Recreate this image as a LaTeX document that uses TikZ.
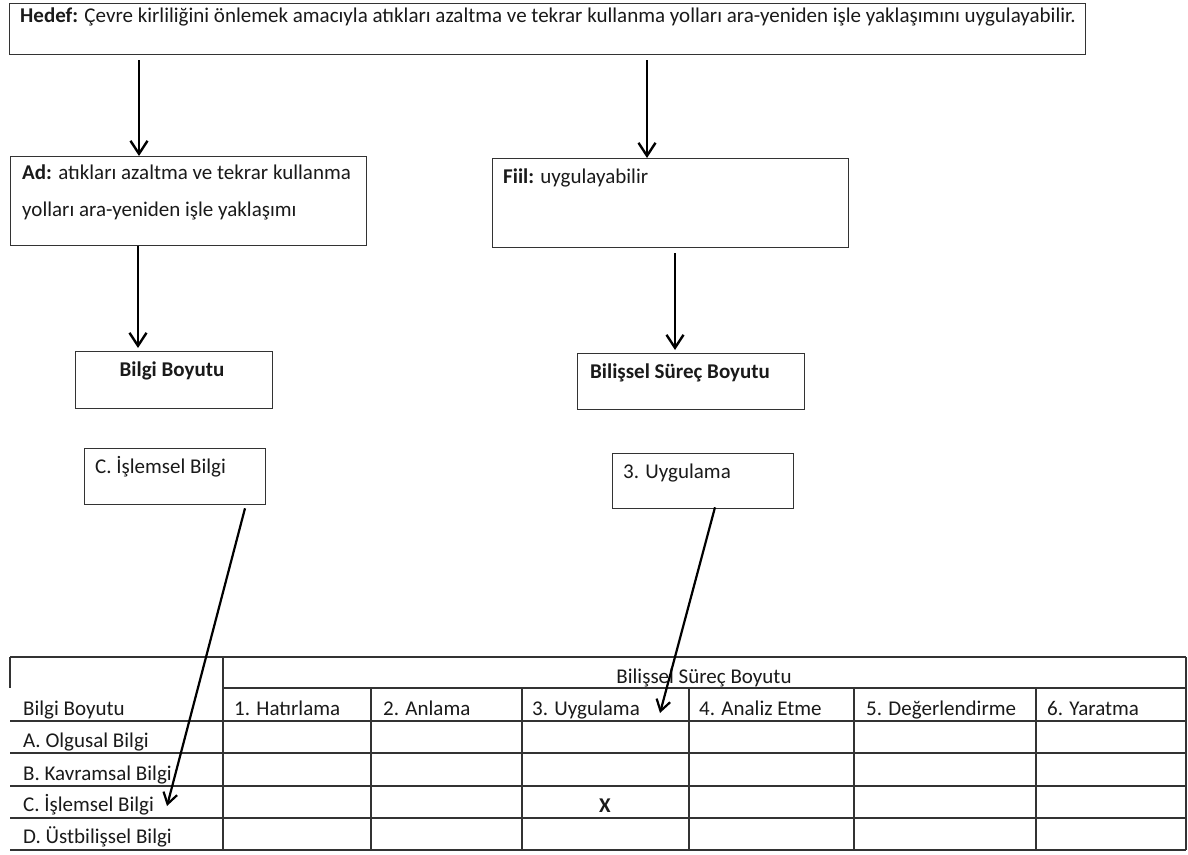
\documentclass[tikz,border=0pt]{standalone}
\usepackage{fontspec}
\setmainfont{Carlito}
\usetikzlibrary{arrows.meta}
\definecolor{ink}{HTML}{1A1A1A}
\definecolor{rule}{HTML}{333333}
\begin{document}
\begin{tikzpicture}[x=1pt,y=-1pt,
  box/.style={draw=rule, line width=1.3pt, inner sep=0pt, anchor=north west},
  txt/.style={anchor=base west, inner sep=0pt, text=ink, font=\fontsize{21}{25}\selectfont},
  ctxt/.style={anchor=base, inner sep=0pt, text=ink, font=\fontsize{21}{25}\selectfont},
  flow/.style={line width=2.6pt, -{Straight Barb[length=13pt,width=17pt,line width=2.4pt]}},
  pointer/.style={line width=2.2pt, -{Straight Barb[length=11pt,width=14pt,line width=2.2pt]}},
  rulel/.style={draw=rule, line width=1.2pt}]
\useasboundingbox[fill=white] (0,0) rectangle (1188,854);

% --- boxes ---
\node[box, minimum width=1076pt, minimum height=51pt] (top) at (9,3) {};
\node[box, minimum width=356pt, minimum height=89pt] (ad) at (10,156) {};
\node[box, minimum width=356pt, minimum height=89pt] (fiil) at (492,158) {};
\node[box, minimum width=197pt, minimum height=57pt] (bilgi) at (75,351) {};
\node[box, minimum width=227pt, minimum height=56pt] (bsb) at (577,353) {};
\node[box, minimum width=181pt, minimum height=56pt] (cis) at (84,448) {};
\node[box, minimum width=181pt, minimum height=55pt] (uyg) at (612,453) {};

% --- box texts ---
\node[txt] (topT) at (20,22) {\textbf{Hedef:} Çevre kirliliğini önlemek amacıyla atıkları azaltma ve tekrar kullanma yolları ara-yeniden işle yaklaşımını uygulayabilir.};
\node[txt] (adT1) at (22,179) {\textbf{Ad:} atıkları azaltma ve tekrar kullanma};
\node[txt] (adT2) at (22,216) {yolları ara-yeniden işle yaklaşımı};
\node[txt] (fiilT) at (503,183) {\textbf{Fiil:} uygulayabilir};
\node[ctxt] (bilgiT) at (172,376) {\textbf{Bilgi Boyutu}};
\node[txt] (bsbT) at (590,378) {\textbf{Bilişsel Süreç Boyutu}};
\node[txt] (cisT) at (95,473) {C. İşlemsel Bilgi};
\node[txt] (uygT) at (623,478) {3. Uygulama};

% --- flow arrows ---
\draw[flow] ([shift={(130,5)}]top.south west) -- ([shift={(129,0)}]ad.north west);
\draw[flow] ([shift={(638,5)}]top.south west) -- ([shift={(155,0)}]fiil.north west);
\draw[flow] ([shift={(128,0)}]ad.south west) -- ([shift={(63,-3)}]bilgi.north west);
\draw[flow] ([shift={(183,5)}]fiil.south west) -- ([shift={(98,-3)}]bsb.north west);

% --- table grid ---
\draw[rulel] (10,657) -- (1186,657);
\draw[rulel] (223,688) -- (1186,688);
\foreach \yy in {721,753,786,818,850} \draw[rulel] (10,\yy) -- (1186,\yy);
\draw[rulel] (10,657) -- (10,688);
\draw[rulel] (223,657) -- (223,850);
\draw[rulel] (1186,657) -- (1186,850);
\foreach \xx in {371,522,689,854,1036} \draw[rulel] (\xx,688) -- (\xx,850);

% --- table texts ---
\node[ctxt] (hdr) at (704,683) {Bilişsel Süreç Boyutu};
\node[txt] (rowH) at (23,715) {Bilgi Boyutu};
\node[txt] (rowA) at (23,747) {A. Olgusal Bilgi};
\node[txt] (rowB) at (23,780) {B. Kavramsal Bilgi};
\node[txt] (rowC) at (23,811) {C. İşlemsel Bilgi};
\node[txt] (rowD) at (23,843) {D. Üstbilişsel Bilgi};
\node[txt] (c1) at (234,715) {1. Hatırlama};
\node[txt] (c2) at (383,715) {2. Anlama};
\node[txt] (c3) at (532,715) {3. Uygulama};
\node[txt] (c4) at (699,715) {4. Analiz Etme};
\node[txt] (c5) at (866,715) {5. Değerlendirme};
\node[txt] (c6) at (1047,715) {6. Yaratma};
\node[ctxt] (mark) at (605,812) {\textbf{X}};

% --- pointers into the table ---
\coordinate (tipC) at (167,806);
\coordinate (tipU) at (660,713);
\draw[pointer] ([shift={(161,3)}]cis.south west) -- (tipC);
\draw[pointer] ([shift={(103,-2)}]uyg.south west) -- (tipU);
\end{tikzpicture}
\end{document}
